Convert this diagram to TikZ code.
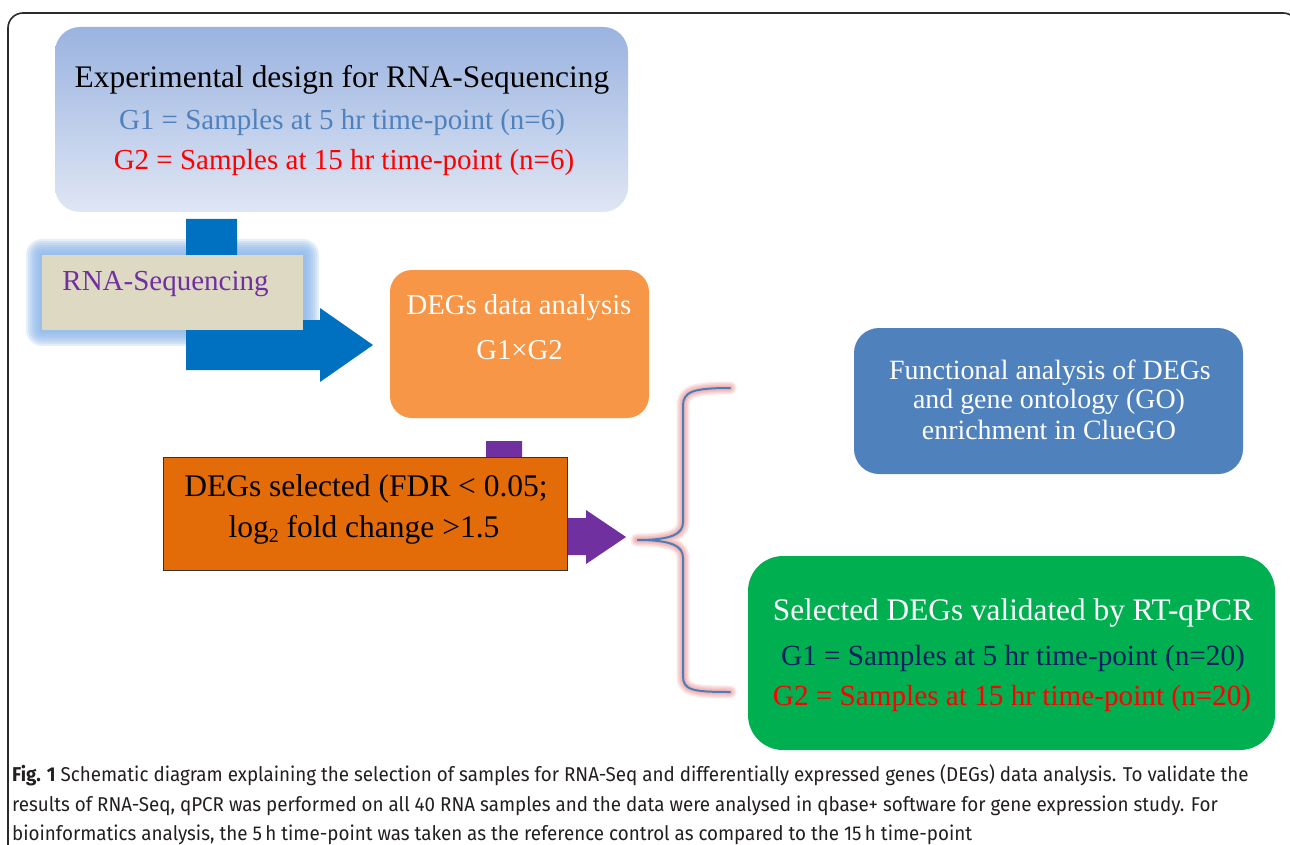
\documentclass[tikz,border=0pt]{standalone}
\usepackage{fontspec}
\setmainfont{Liberation Serif}
\newfontfamily\capfont[FakeStretch=0.94]{Fira Sans}
\definecolor{framec}{HTML}{2B2B2B}
\definecolor{toptop}{HTML}{9AB3E0}
\definecolor{topbot}{HTML}{DFE6F4}
\definecolor{arrblue}{HTML}{0070C0}
\definecolor{tan}{HTML}{DDD9C3}
\definecolor{glowblue}{HTML}{8DB8EC}
\definecolor{orangeA}{HTML}{F79646}
\definecolor{orangeB}{HTML}{E36C09}
\definecolor{purp}{HTML}{7030A0}
\definecolor{steel}{HTML}{4F81BD}
\definecolor{greenbox}{HTML}{00B050}
\definecolor{navy}{HTML}{002060}
\definecolor{bracepink}{HTML}{F2A9A9}
\definecolor{braceblue}{HTML}{4A7EBB}
\definecolor{capc}{HTML}{231F20}
\newcommand{\fs}[1]{\fontsize{#1}{#1}\selectfont}
\tikzset{
  rbox/.style={rounded corners=#1, inner sep=0pt},
  txt/.style={inner sep=0pt, align=center},
  capline/.style={anchor=base west, inner sep=0pt, text=capc, font=\capfont\fontsize{20}{24}\selectfont}
}
\begin{document}
\begin{tikzpicture}[x=1pt,y=-1pt]
\useasboundingbox (0,0) rectangle (1290,845);
\fill[white] (0,0) rectangle (1290,845);
\begin{scope}
\clip (0,0) rectangle (1290,845);
\draw[framec, line width=1.6pt, rounded corners=15pt] (8,13) rectangle (1298,900);
\end{scope}

% top box
\node[rbox=25pt, minimum width=573pt, minimum height=185pt, top color=toptop, bottom color=topbot, draw=none] (exp) at (341.5,119.5) {};
\node[txt, font=\fs{31.4}] (expt) at (342,80) {Experimental design for RNA-Sequencing};
\node[txt, font=\fs{29}, text=steel] (expg1) at (342,123) {G1 = Samples at 5 hr time-point (n=6)};
\node[txt, font=\fs{29}, text=red] (expg2) at (344,163) {G2 = Samples at 15 hr time-point (n=6)};

% glow around RNA box
\foreach \d in {16,14,...,2}{
  \fill[glowblue, opacity=0.22, rounded corners=\d pt] (42-\d,255-\d) rectangle (303+\d,330+\d);
}
% blue bent arrow
\fill[arrblue] (186,219) -- (237,219) -- (237,320) -- (320,320) -- (320,308) -- (373,345) -- (320,382) -- (320,370) -- (186,370) -- cycle;
% RNA box
\node[inner sep=0pt, minimum width=261pt, minimum height=75pt, fill=tan] (rna) at (172.5,292.5) {};
\node[txt, font=\fs{29}, text=purp] (rnat) at (165.5,284) {RNA-Sequencing};

% orange box
\node[rbox=22pt, minimum width=259pt, minimum height=148pt, fill=orangeA] (deg) at (519.5,344) {};
\node[txt, font=\fs{28.7}, text=white] (degt1) at (519,308) {DEGs data analysis};
\node[txt, font=\fs{28.7}, text=white] (degt2) at (519.5,350) {G1×G2};

% purple bent arrow
\fill[purp] (486,441) -- (522,441) -- (522,518) -- (586,518) -- (586,510) -- (626,537) -- (586,564) -- (586,555) -- (486,555) -- cycle;
% dark orange box
\node[inner sep=0pt, minimum width=404pt, minimum height=113pt, fill=orangeB, draw=black!80, line width=0.8pt] (sel) at (365,513.5) {};
\node[txt, font=\fs{31.5}] (selt1) at (366,489) {DEGs selected (FDR < 0.05;};
\node[txt, font=\fs{31.5}] (selt2) at (364,530) {log{\fs{20}\raisebox{-5pt}{2}} fold change >1.5};

% brace
\coordinate (bt) at (730,388);
\coordinate (bm) at (637,540);
\coordinate (bb) at (730,692);
\foreach \w/\o in {13/0.25,10/0.3,7/0.4,4.5/0.5}{
\draw[bracepink, opacity=\o, line width=\w pt, line cap=round, line join=round]
  (bt) .. controls (692,388) and (683,392) .. (683,406) -- (683,522) .. controls (683,534) and (672,540) .. (bm)
  .. controls (672,540) and (683,546) .. (683,558) -- (683,676) .. controls (683,690) and (692,692) .. (bb);
}
\draw[braceblue, line width=2pt, line cap=round]
  (bt) .. controls (692,388) and (683,392) .. (683,406) -- (683,522) .. controls (683,534) and (672,540) .. (bm)
  .. controls (672,540) and (683,546) .. (683,558) -- (683,676) .. controls (683,690) and (692,692) .. (bb);

% blue box
\node[rbox=25pt, minimum width=389pt, minimum height=146pt, fill=steel] (fun) at (1048.5,401) {};
\node[txt, font=\fs{27.9}, text=white] (funt1) at (1050,373) {Functional analysis of DEGs};
\node[txt, font=\fs{27.9}, text=white] (funt2) at (1049,402) {and gene ontology (GO)};
\node[txt, font=\fs{27.9}, text=white] (funt3) at (1049,430) {enrichment in ClueGO};

% green box
\node[rbox=35pt, minimum width=527pt, minimum height=194pt, fill=greenbox] (val) at (1011.5,653) {};
\node[txt, font=\fs{31.3}, text=white] (valt1) at (1013,613) {Selected DEGs validated by RT-qPCR};
\node[txt, font=\fs{29.2}, text=navy] (valt2) at (1013,658) {G1 = Samples at 5 hr time-point (n=20)};
\node[txt, font=\fs{29.2}, text=red] (valt3) at (1012,698) {G2 = Samples at 15 hr time-point (n=20)};

% caption
\node[capline] (cap1) at (12,781) {\textbf{Fig. 1} Schematic diagram explaining the selection of samples for RNA-Seq and differentially expressed genes (DEGs) data analysis. To validate the};
\node[capline] (cap2) at (12,811) {results of RNA-Seq, qPCR was performed on all 40 RNA samples and the data were analysed in qbase+ software for gene expression study. For};
\node[capline] (cap3) at (12,840) {bioinformatics analysis, the 5\,h time-point was taken as the reference control as compared to the 15\,h time-point};
\end{tikzpicture}
\end{document}
